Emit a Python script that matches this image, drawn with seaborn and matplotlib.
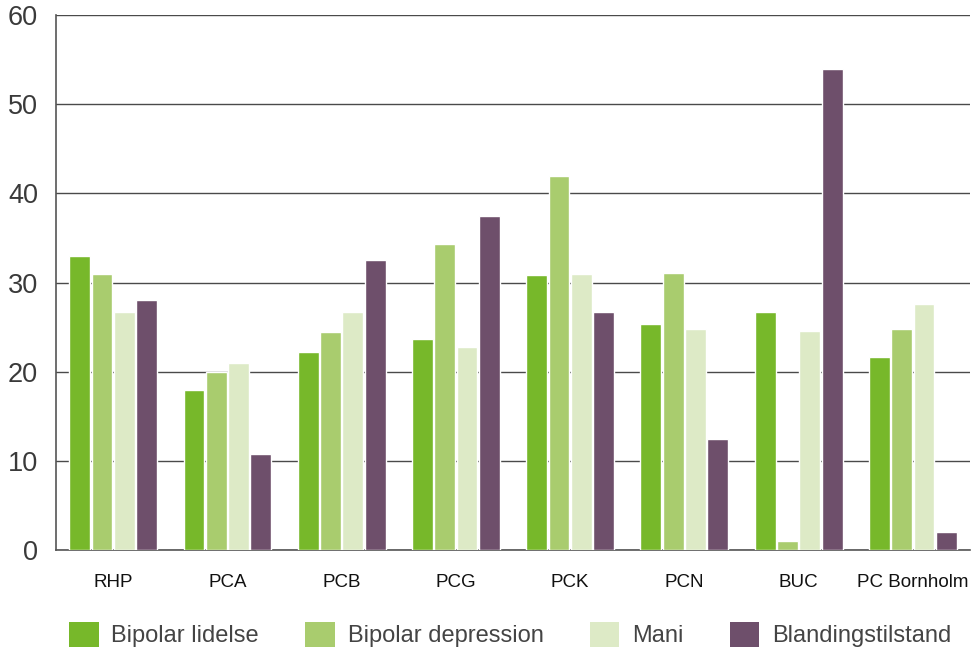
import matplotlib
matplotlib.use("Agg")
import matplotlib.pyplot as plt
from matplotlib.patches import Patch
from matplotlib.ticker import FixedLocator
import seaborn as sns
import pandas as pd

# Units and diagnosis groups
units = ["RHP", "PCA", "PCB", "PCG", "PCK", "PCN", "BUC", "PC Bornholm"]
series = ["Bipolar lidelse", "Bipolar depression", "Mani", "Blandingstilstand"]

bipolar_lidelse = [33.0, 18.0, 22.2, 23.7, 30.8, 25.3, 26.7, 21.7]
bipolar_depression = [31.0, 20.0, 24.5, 34.3, 42.0, 31.1, 1.0, 24.8]
mani = [26.7, 21.0, 26.7, 22.8, 31.0, 24.8, 24.6, 27.6]
blandingstilstand = [28.0, 10.8, 32.5, 37.5, 26.7, 12.5, 54.0, 2.0]

colors = ["#77b82a", "#a9cc6e", "#ddeac6", "#6e4f6b"]

values = [bipolar_lidelse, bipolar_depression, mani, blandingstilstand]
df = pd.DataFrame(
    [(u, s, v) for s, vals in zip(series, values) for u, v in zip(units, vals)],
    columns=["unit", "type", "value"],
)

sns.set_theme(style="white")
plt.rcParams["font.family"] = ["Liberation Sans", "DejaVu Sans"]

fig = plt.figure(figsize=(9.78, 6.54), dpi=100)
ax = fig.add_axes([0.0573, 0.159, 0.9345, 0.818])

sns.barplot(
    data=df, x="unit", y="value", hue="type", order=units, hue_order=series,
    palette=colors, width=0.78, gap=0.06, saturation=1, legend=False, ax=ax,
    zorder=3,
)

ax.set_ylim(0, 60)
ax.set_xlim(-0.5, len(units) - 0.5)
ax.set_yticks(range(0, 61, 10))
ax.yaxis.grid(True, color="#4a4a4a", linewidth=1.0, zorder=0)
ax.set_axisbelow(True)

for side in ["top", "right"]:
    ax.spines[side].set_visible(False)
for side in ["left", "bottom"]:
    ax.spines[side].set_color("#555555")
    ax.spines[side].set_linewidth(1.2)

ax.set_xlabel("")
ax.set_ylabel("")
ax.tick_params(axis="y", length=0, pad=13, labelsize=19.5, labelcolor="#3a3a3a")
ax.tick_params(axis="x", which="major", length=0, pad=17, labelsize=13.5,
               labelcolor="#111111")
ax.xaxis.set_minor_locator(FixedLocator([i - 0.5 for i in range(len(units) + 1)]))
ax.tick_params(axis="x", which="minor", direction="in", length=9.5, width=1.2,
               color="#555555")

handles = [Patch(facecolor=c, edgecolor="none") for c in colors]
fig.legend(
    handles, series, loc="center left", bbox_to_anchor=(69 / 978, 0.030), ncol=4,
    frameon=False, fontsize=17, handlelength=1.25, handleheight=1.25,
    handletextpad=0.55, columnspacing=1.95, labelcolor="#444444",
    borderpad=0, borderaxespad=0,
)

fig.savefig("out.png", dpi=100)
